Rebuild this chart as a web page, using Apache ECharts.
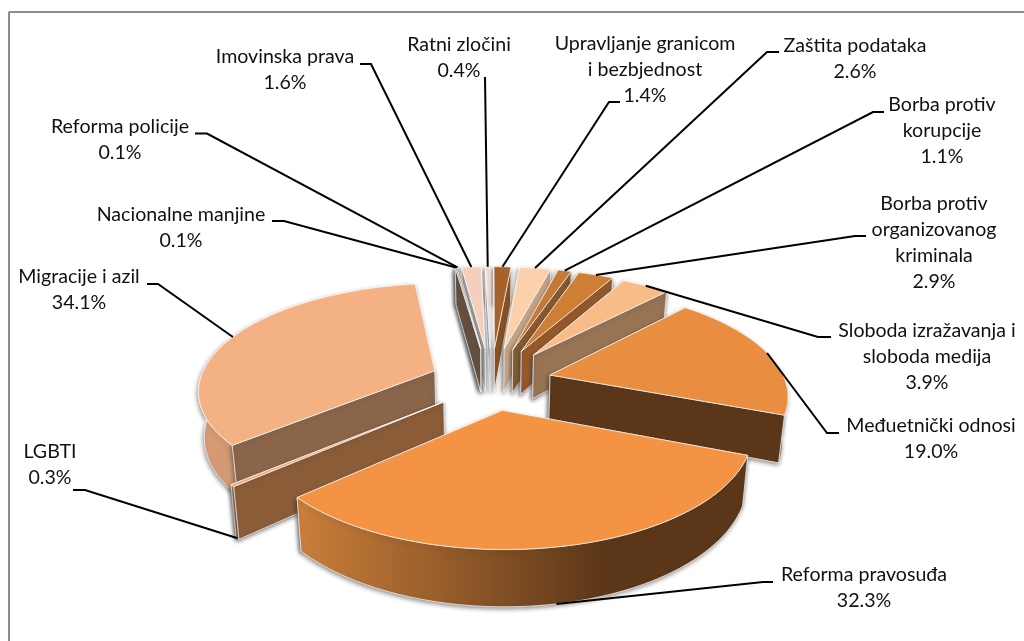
<!DOCTYPE html>
<html lang="bs">
<head>
    <meta charset="UTF-8">
    <title>Oblasti</title>
    <script src="https://cdn.jsdelivr.net/npm/echarts@6/dist/echarts.min.js"></script>
    <style>
        html, body { margin: 0; background: #fff; }
        #main { width: 1024px; height: 641px; }
    </style>
</head>
<body>
    <div id="main"></div>
</body>
<script type="text/javascript">
    // clockwise from 12 o'clock, same order as the slices in the picture
    var categories = [
        'Upravljanje granicom\ni bezbjednost', 'Zaštita podataka', 'Borba protiv\nkorupcije',
        'Borba protiv\norganizovanog\nkriminala', 'Sloboda izražavanja i\nsloboda medija',
        'Međuetnički odnosi', 'Reforma pravosuđa', 'LGBTI', 'Migracije i azil',
        'Nacionalne manjine', 'Reforma policije', 'Imovinska prava', 'Ratni zločini'
    ];
    var shares = [1.4, 2.6, 1.1, 2.9, 3.9, 19.0, 32.3, 0.3, 34.1, 0.1, 0.1, 1.6, 0.4];

    // styles per slice
    var topColors = ['#a5622a', '#fbd0aa', '#c47a36', '#cf7e36', '#f7bc87', '#e98e40', '#f39343', '#f4a878', '#f4b183', '#6a5341', '#6a5341', '#f6cfbc', '#f9dbd2'];
    var sideColors = ['#8a5222', '#c9a888', '#8a5a2e', '#96592a', '#987354', '#5c3719', '#5c3719', '#8b5c38', '#8b654a', '#65503f', '#65503f', '#a8a8a8', '#a9a9a9'];
    var wallFrom = ['#a5622a', '#d8b594', '#a96a30', '#b06c30', '#c99a6e', '#5c3719', '#cb7f3a', '#c98a5e', '#d69c76', '#65503f', '#65503f', '#a8a8a8', '#a9a9a9'];
    var wallTo = ['#8a5222', '#c9a888', '#8a5a2e', '#96592a', '#987354', '#5c3719', '#5c3719', '#8b5c38', '#c98f69', '#65503f', '#65503f', '#a8a8a8', '#a9a9a9'];

    // label centres and the leader elbow + stub end, in page pixels
    var labelX = [645, 855, 942, 934, 927, 931, 864, 50, 79, 181, 120, 285, 459];
    var labelY = [70, 59, 131, 243, 357, 439, 588, 465, 290, 228, 140, 70, 57.5];
    var leaderEnds = [
        [[609, 102], [620, 102]], [[767, 52], [779, 52]], [[873, 112], [884, 112]],
        [[855, 236], [866, 236]], [[818, 337], [831, 337]], [[827, 433], [839, 433]],
        [[763, 582], [773, 582]], [[85, 490], [73, 490]], [[158, 284], [147, 284]],
        [[284, 221], [272, 221]], [[207, 133.5], [195, 133.5]], [[371, 64], [360, 64]],
        [[485, 77], [485, 77]]
    ];

    // perspective of the pie floor
    var cx = 491, cy = 378, scaleX = 234, scaleY = 104, persp = 0.165;
    var explodeX = 0.26, explodeY = 0.3, sideShift = 0.04, farBoost = 0.15, wallHeight = 45, wallConverge = 0.02;

    var total = shares.reduce(function (a, b) { return a + b; }, 0);
    var slices = [];
    var acc = 0;
    shares.forEach(function (v) {
        var start = acc / total * Math.PI * 2;
        acc += v;
        var end = acc / total * Math.PI * 2;
        slices.push({ start: start, end: end, mid: (start + end) / 2 });
    });

    // angle is clockwise from up, y grows towards the viewer
    function project(x, y, drop) {
        var w = 1 - persp * y;
        var d = drop || 0;
        return [cx + scaleX * x / w * (1 - wallConverge * d / wallHeight), cy + (scaleY * y + d) / w];
    }
    function origin(s) {
        var sin = Math.sin(s.mid), cos = Math.cos(s.mid);
        // the thin far slices fan out a bit more than the big ones
        var ex = explodeX + farBoost * Math.max(0, cos - 0.4);
        return [ex * sin, -explodeY * cos + sideShift * sin * sin];
    }
    function rim(s, angle, drop) {
        var o = origin(s);
        return project(o[0] + Math.sin(angle), o[1] - Math.cos(angle), drop);
    }
    function arcPoints(s, drop) {
        var pts = [];
        var n = Math.max(2, Math.ceil((s.end - s.start) / (Math.PI / 180)));
        for (var k = 0; k <= n; k++) {
            pts.push(rim(s, s.start + (s.end - s.start) * k / n, drop));
        }
        return pts;
    }

    var edge = { stroke: 'rgba(255,255,255,0.75)', lineWidth: 0.9, lineJoin: 'round' };

    function poly(points, fill, shadow) {
        return {
            type: 'polygon',
            silent: true,
            shape: { points: points },
            style: Object.assign({ fill: fill }, edge, shadow ? {
                shadowColor: 'rgba(60,60,60,0.55)', shadowBlur: 4, shadowOffsetX: -1, shadowOffsetY: 2
            } : {})
        };
    }

    function renderSlice(params, api) {
        var i = api.value(0);
        var s = slices[i];
        var o = origin(s);
        var apexTop = project(o[0], o[1], 0);
        var apexLow = project(o[0], o[1], wallHeight);
        var topArc = arcPoints(s, 0);
        var lowArc = arcPoints(s, wallHeight);

        var walls = [];
        // side walls and the rim, back facing ones first
        walls.push({
            facing: Math.cos(s.start - Math.PI / 2 + Math.PI),
            el: poly([apexTop, topArc[0], lowArc[0], apexLow], sideColors[i], true)
        });
        walls.push({
            facing: Math.cos(s.end + Math.PI / 2 + Math.PI),
            el: poly([apexTop, topArc[topArc.length - 1], lowArc[lowArc.length - 1], apexLow], sideColors[i], true)
        });
        walls.push({
            facing: -Math.cos(s.mid),
            el: poly(topArc.concat(lowArc.slice().reverse()), new echarts.graphic.LinearGradient(0, 0, 1, 0, [
                { offset: 0, color: wallFrom[i] },
                { offset: 0.68, color: wallTo[i] },
                { offset: 1, color: wallTo[i] }
            ]), true)
        });
        walls.sort(function (a, b) { return a.facing - b.facing; });

        var children = walls.map(function (w) { return w.el; });
        children.push(poly([apexTop].concat(topArc), topColors[i], false));
        return { type: 'group', children: children };
    }

    function renderLabel(params, api) {
        var i = api.value(0);
        var s = slices[i];
        // labels of the front slices hook onto the bottom of the wall
        var anchor = rim(s, s.mid, Math.cos(s.mid) < -0.5 ? wallHeight : 0);
        var pct = shares[i].toFixed(1) + '%';
        return {
            type: 'group',
            children: [{
                type: 'polyline',
                silent: true,
                shape: { points: [anchor].concat(leaderEnds[i]) },
                style: { fill: null, stroke: '#000', lineWidth: 2 }
            }, {
                type: 'text',
                silent: true,
                style: {
                    text: categories[i] + '\n' + pct,
                    x: labelX[i],
                    y: labelY[i],
                    align: 'center',
                    verticalAlign: 'middle',
                    fontFamily: 'Lato',
                    fontSize: 19.6,
                    lineHeight: 26,
                    fill: '#111'
                }
            }]
        };
    }

    // painter's order: far slices first
    var drawOrder = slices.map(function (s, i) { return i; }).sort(function (a, b) {
        return (-Math.cos(slices[a].mid)) - (-Math.cos(slices[b].mid));
    });

    var myChart = echarts.init(document.getElementById('main'));
    var option = {
        animation: false,
        backgroundColor: '#fff',
        graphic: [
            { type: 'line', silent: true, shape: { x1: 9, y1: 12, x2: 1024, y2: 12 }, style: { stroke: '#8c8c8c', lineWidth: 2 } },
            { type: 'line', silent: true, shape: { x1: 9, y1: 12, x2: 9, y2: 641 }, style: { stroke: '#8c8c8c', lineWidth: 2 } }
        ],
        series: [{
            type: 'custom',
            coordinateSystem: 'none',
            renderItem: renderSlice,
            data: drawOrder.map(function (i) { return [i, shares[i]]; }),
            z: 2
        }, {
            type: 'custom',
            coordinateSystem: 'none',
            renderItem: renderLabel,
            data: shares.map(function (v, i) { return [i, v]; }),
            z: 3
        }]
    };
    myChart.setOption(option);
</script>
</html>
